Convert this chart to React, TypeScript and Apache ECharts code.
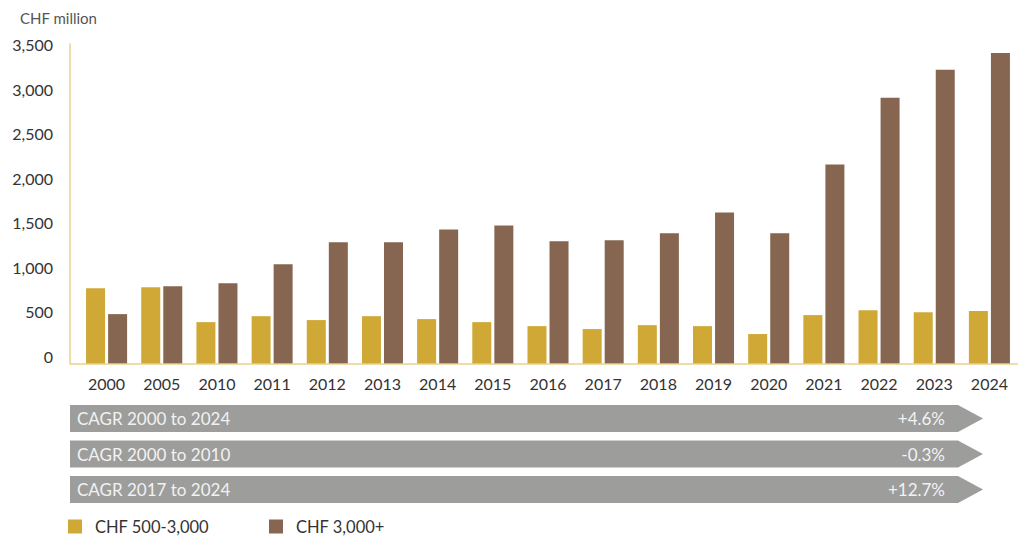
import React, { useEffect, useRef } from "react";
import * as echarts from "echarts";

const years = ["2000", "2005", "2010", "2011", "2012", "2013", "2014", "2015", "2016", "2017", "2018", "2019", "2020", "2021", "2022", "2023", "2024"];
const midSegment = [853, 864, 471, 538, 494, 538, 505, 471, 426, 393, 437, 426, 337, 550, 606, 583, 595];
const topSegment = [561, 875, 909, 1122, 1369, 1369, 1514, 1559, 1380, 1391, 1470, 1705, 1470, 2244, 2995, 3309, 3500];
const seriesNames = ["CHF 500-3,000", "CHF 3,000+"];
const cagrLabels = ["CAGR 2000 to 2024", "CAGR 2000 to 2010", "CAGR 2017 to 2024"];
const cagrValues = ["+4.6%", "-0.3%", "+12.7%"];

const GOLD = "#CFA835";
const BROWN = "#866651";
const AXIS = "#E8D08C";
const FONT = "Lato, 'Open Sans', sans-serif";

export default function App() {
  const ref = useRef<HTMLDivElement>(null);
  useEffect(() => {
    if (!ref.current) return;
    const chart = echarts.init(ref.current, undefined, { renderer: "svg" });
    const arrowTop = [405, 440.5, 476];
    const arrowH = 27;
    const graphics: any[] = [];
    cagrLabels.forEach((lab, i) => {
      const t = arrowTop[i];
      graphics.push({
        type: "polygon",
        shape: {
          points: [
            [70, t],
            [958, t],
            [983, t + arrowH / 2],
            [958, t + arrowH],
            [70, t + arrowH],
          ],
        },
        style: { fill: "#9D9D9C" },
      });
      graphics.push({
        type: "text",
        x: 77,
        y: t + arrowH / 2,
        style: { text: lab, fill: "#F2F2F2", font: `17px ${FONT}`, verticalAlign: "middle", align: "left" },
      });
      graphics.push({
        type: "text",
        x: 945,
        y: t + arrowH / 2,
        style: { text: cagrValues[i], fill: "#F2F2F2", font: `17px ${FONT}`, verticalAlign: "middle", align: "right" },
      });
    });
    graphics.push({
      type: "line",
      shape: { x1: 70, y1: 364, x2: 1018, y2: 364 },
      style: { stroke: AXIS, lineWidth: 1.5 },
      z: 10,
    });
    graphics.push({
      type: "text",
      x: 20,
      y: 18,
      style: { text: "CHF million", fill: "#555", font: `15px ${FONT}`, verticalAlign: "middle" },
    });

    const legendBase = {
      top: 518,
      itemWidth: 14,
      itemHeight: 14,
      icon: "rect",
      padding: 0,
      textStyle: { fontSize: 16.5, lineHeight: 16, color: "#333", fontFamily: FONT, padding: [0, 0, 0, 8] },
    };

    chart.setOption({
      animation: false,
      textStyle: { fontFamily: FONT },
      grid: { left: 79, right: 12, top: 44, bottom: 172 },
      legend: [
        { ...legendBase, left: 68, data: [seriesNames[0]] },
        { ...legendBase, left: 269, data: [seriesNames[1]] },
      ],
      xAxis: {
        type: "category",
        data: years,
        axisLine: { show: false },
        axisTick: { show: false },
        axisLabel: { fontSize: 16, color: "#333", margin: 11, fontFamily: FONT },
      },
      yAxis: {
        type: "value",
        min: 0,
        max: 3600,
        interval: 500,
        offset: 9,
        axisLine: { show: true, lineStyle: { color: AXIS, width: 1.5 } },
        axisTick: { show: false },
        splitLine: { show: false },
        axisLabel: {
          fontSize: 16,
          color: "#333",
          margin: 17,
          verticalAlign: "bottom",
          fontFamily: FONT,
          formatter: (v: number) => (v > 3500 ? "" : v.toLocaleString("en-US")),
        },
      },
      series: [
        { name: seriesNames[0], type: "bar", data: midSegment, barWidth: 19, barGap: "16%", itemStyle: { color: GOLD } },
        { name: seriesNames[1], type: "bar", data: topSegment, barWidth: 19, barGap: "16%", itemStyle: { color: BROWN } },
      ],
      graphic: graphics,
    });
    return () => chart.dispose();
  }, []);
  return <div ref={ref} style={{ width: 1029, height: 536, position: "absolute", left: 0, top: 0 }} />;
}
